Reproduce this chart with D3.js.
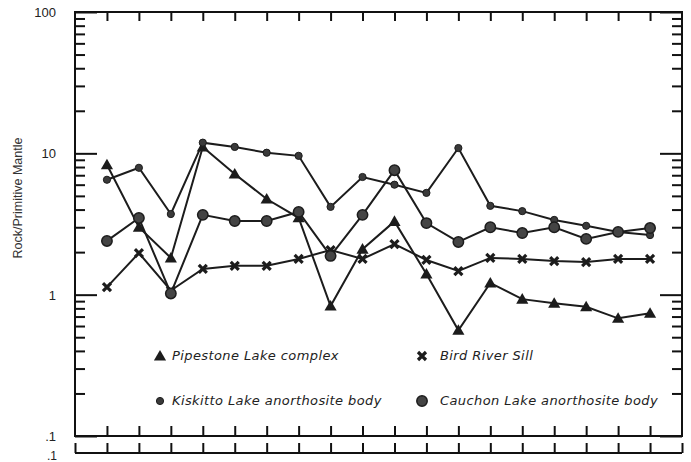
<!DOCTYPE html>
<html>
<head>
<meta charset="utf-8">
<script src="https://cdn.jsdelivr.net/npm/d3@7"></script>
<style>
  body { margin: 0; background: #fff; }
  svg { display: block; }
  .tickLabel { font-family: "Liberation Sans", Arial, sans-serif; font-size: 13px; fill: #222; }
  .legendText { font-family: "DejaVu Sans", sans-serif; font-style: italic; font-size: 13px; letter-spacing: 0.4px; fill: #222; }
</style>
</head>
<body>
<svg width="691" height="462"></svg>
<script>
// 18 elements along x (no labels printed on the original)
const positions = d3.range(1, 19)

const pipestone = [8.3, 3.0, 1.82, 11.1, 7.15, 4.75, 3.5, 0.83, 2.1, 3.3, 1.4, 0.56, 1.21, 0.93, 0.87, 0.82, 0.68, 0.74]
const birdRiver = [1.13, 1.97, 1.07, 1.52, 1.6, 1.6, 1.79, 2.07, 1.79, 2.28, 1.76, 1.47, 1.82, 1.79, 1.73, 1.7, 1.79, 1.79]
const kiskitto = [6.5, 7.9, 3.72, 11.9, 11.1, 10.1, 9.6, 4.18, 6.8, 6.0, 5.25, 10.9, 4.25, 3.9, 3.38, 3.07, 2.78, 2.64]
const cauchon = [2.4, 3.49, 1.02, 3.67, 3.32, 3.32, 3.85, 1.88, 3.67, 7.6, 3.21, 2.36, 3.0, 2.73, 3.0, 2.48, 2.78, 2.96]

const yMajor = [0.1, 1, 10, 100]
const yMajorLabels = [".1", "1", "10", "100"]

const legendItems = [
    {label: "Pipestone Lake complex", marker: "triangle"},
    {label: "Bird River Sill", marker: "cross"},
    {label: "Kiskitto Lake anorthosite body", marker: "dot"},
    {label: "Cauchon Lake anorthosite body", marker: "circle"}
]

const series = [
    {values: pipestone, marker: "triangle"},
    {values: birdRiver, marker: "cross"},
    {values: kiskitto, marker: "dot"},
    {values: cauchon, marker: "circle"}
]

const svg = d3.select("svg")

// plot frame
const plotLeft = 75, plotRight = 682, plotTop = 12, plotBottom = 436

const x = d3.scaleLinear().domain([0, 19]).range([plotLeft, plotRight])
const y = d3.scaleLog().domain([0.1, 100]).range([plotBottom, plotTop])

// minor values 2..9 in each decade
let yMinor = []
;[0.1, 1, 10].forEach(d => {
    for (let k = 2; k <= 9; k++) yMinor.push(d * k)
})

// frame
svg.append("rect")
    .attr("x", plotLeft).attr("y", plotTop)
    .attr("width", plotRight - plotLeft).attr("height", plotBottom - plotTop)
    .attr("fill", "none").attr("stroke", "#111").attr("stroke-width", 2)

function styleAxis(g) {
    g.select(".domain").remove()
    g.selectAll("line").attr("stroke", "#111").attr("stroke-width", 2)
}

// left axis ticks (inward)
svg.append("g").attr("transform", "translate(" + plotLeft + ",0)")
    .call(d3.axisRight(y).tickValues(yMinor).tickSize(10).tickFormat(""))
    .call(styleAxis)
svg.append("g").attr("transform", "translate(" + plotLeft + ",0)")
    .call(d3.axisRight(y).tickValues(yMajor).tickSize(22).tickFormat(""))
    .call(styleAxis)

// right axis ticks (inward)
svg.append("g").attr("transform", "translate(" + plotRight + ",0)")
    .call(d3.axisLeft(y).tickValues(yMinor).tickSize(10).tickFormat(""))
    .call(styleAxis)
svg.append("g").attr("transform", "translate(" + plotRight + ",0)")
    .call(d3.axisLeft(y).tickValues(yMajor).tickSize(22).tickFormat(""))
    .call(styleAxis)

// top & bottom category ticks
svg.append("g").attr("transform", "translate(0," + plotTop + ")")
    .call(d3.axisBottom(x).tickValues(positions).tickSize(9).tickFormat(""))
    .call(styleAxis)
svg.append("g").attr("transform", "translate(0," + plotBottom + ")")
    .call(d3.axisTop(x).tickValues(positions).tickSize(10).tickFormat(""))
    .call(styleAxis)

// the extra strip below the plot
const strip = 453
svg.append("line")
    .attr("x1", plotLeft).attr("x2", plotRight).attr("y1", strip).attr("y2", strip)
    .attr("stroke", "#111").attr("stroke-width", 2)
svg.append("g").attr("transform", "translate(0," + strip + ")")
    .call(d3.axisTop(x).tickValues([0].concat(positions, [19])).tickSize(10).tickFormat(""))
    .call(styleAxis)
svg.append("text").classed("tickLabel", true)
    .attr("x", 57).attr("y", 460)
    .attr("text-anchor", "end")
    .style("font-size", "12px")
    .text(".1")

// y tick labels
svg.selectAll(".yLab").data(yMajor).enter()
    .append("text")
    .classed("tickLabel", true)
    .attr("x", 56)
    .attr("y", d => y(d) + 5)
    .attr("text-anchor", "end")
    .text((d, i) => yMajorLabels[i])

// y axis title
svg.append("text")
    .attr("transform", "translate(22,198) rotate(-90)")
    .attr("text-anchor", "middle")
    .style("font-family", "Liberation Sans, Arial, sans-serif")
    .style("font-size", "12.5px")
    .style("fill", "#333")
    .text("Rock/Primitive Mantle")

// markers
function drawMarker(g, type, cx, cy) {
    if (type == "triangle") {
        g.append("path")
            .attr("d", d3.symbol().type(d3.symbolTriangle).size(64)())
            .attr("transform", "translate(" + cx + "," + (cy + 1) + ")")
            .attr("fill", "#1c1c1c")
    } else if (type == "cross") {
        let s = 4
        g.append("path")
            .attr("d", "M" + (cx - s) + "," + (cy - s) + "L" + (cx + s) + "," + (cy + s) +
                       "M" + (cx - s) + "," + (cy + s) + "L" + (cx + s) + "," + (cy - s))
            .attr("stroke", "#1c1c1c").attr("stroke-width", 3.2)
    } else if (type == "dot") {
        g.append("circle").attr("cx", cx).attr("cy", cy).attr("r", 3.6)
            .attr("fill", "#3a3a3a").attr("stroke", "#1c1c1c").attr("stroke-width", 1)
    } else {
        g.append("circle").attr("cx", cx).attr("cy", cy).attr("r", 5.2)
            .attr("fill", "#444").attr("stroke", "#1c1c1c").attr("stroke-width", 1.5)
    }
}

const line = d3.line()
    .x((d, i) => x(positions[i]))
    .y(d => y(d))

const marks = svg.append("g")
series.forEach(s => {
    marks.append("path")
        .datum(s.values)
        .attr("d", line)
        .attr("fill", "none")
        .attr("stroke", "#1c1c1c")
        .attr("stroke-width", 2)
})
series.forEach(s => {
    s.values.forEach((v, i) => drawMarker(marks, s.marker, x(positions[i]), y(v)))
})

// legend
const legend = svg.append("g")
legendItems.forEach((d, i) => {
    let lx = (i % 2 == 0) ? 160 : 422
    let ly = (i < 2) ? 356 : 401
    drawMarker(legend, d.marker, lx, ly)
    legend.append("text")
        .classed("legendText", true)
        .attr("x", lx + (i % 2 == 0 ? 12 : 18))
        .attr("y", ly + 4)
        .text(d.label)
})
</script>
</body>
</html>
